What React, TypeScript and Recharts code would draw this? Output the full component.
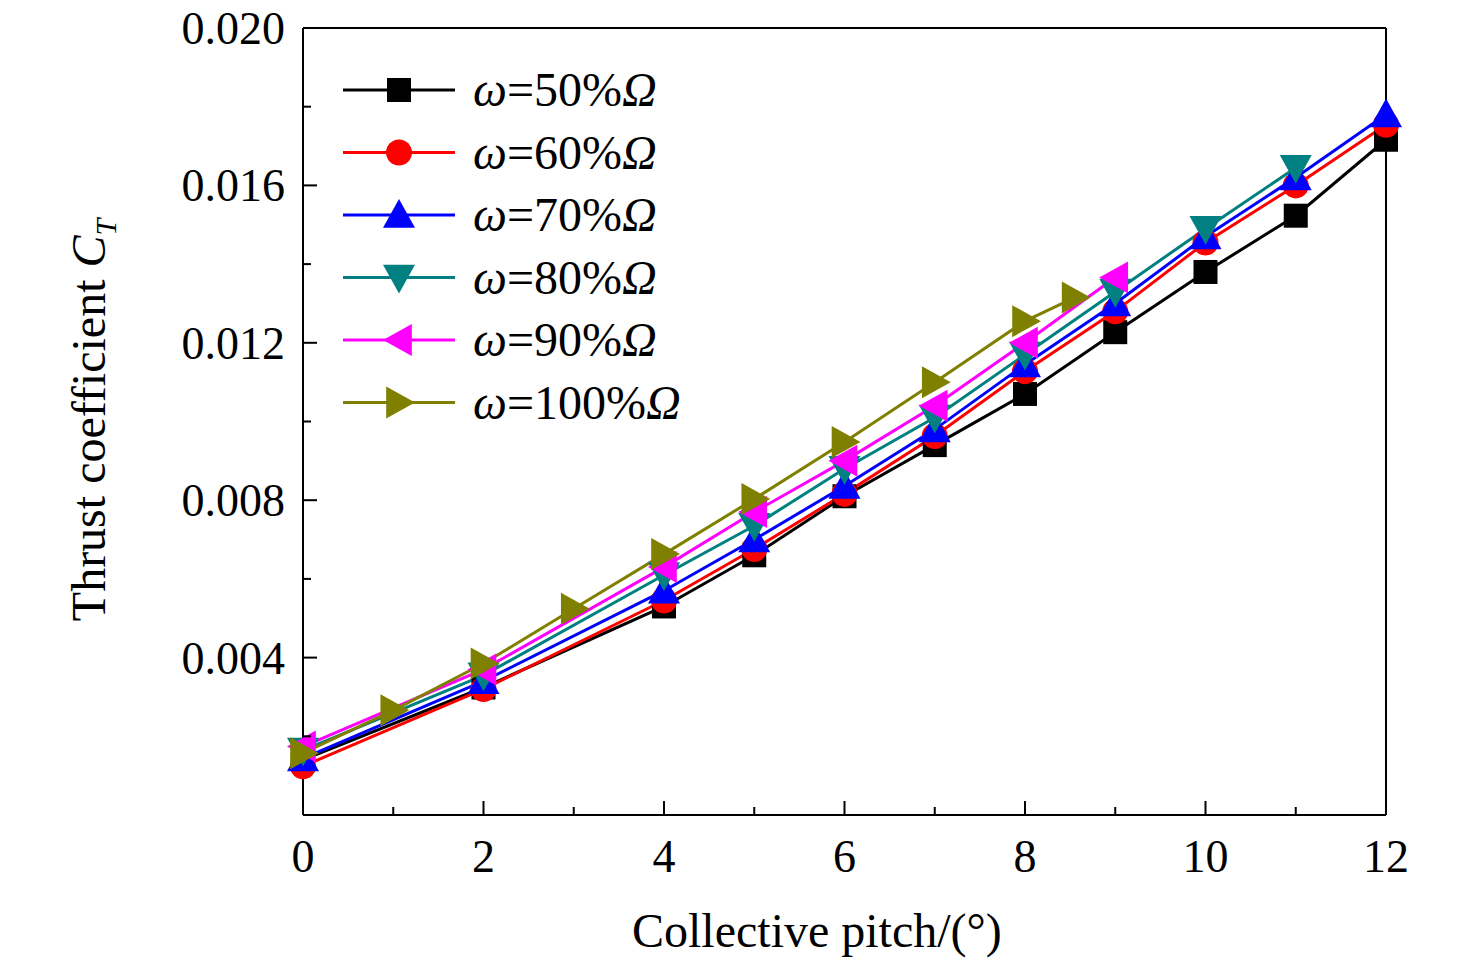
import { LineChart, Line, XAxis, YAxis, ReferenceLine } from "recharts";

const pitch50 = [0, 2, 4, 5, 6, 7, 8, 9, 10, 11, 12];
const ct50 = [0.0014, 0.00324, 0.0053, 0.0066, 0.0081, 0.0094, 0.0107, 0.01227, 0.0138, 0.01523, 0.01716];
const pitch60 = [0, 2, 4, 5, 6, 7, 8, 9, 10, 11, 12];
const ct60 = [0.00124, 0.0032, 0.00545, 0.00676, 0.00816, 0.00963, 0.01128, 0.0128, 0.01455, 0.016, 0.01754];
const pitch70 = [0, 2, 4, 5, 6, 7, 8, 9, 10, 11, 12];
const ct70 = [0.00144, 0.0034, 0.0057, 0.007, 0.00836, 0.0098, 0.01145, 0.013, 0.0147, 0.0162, 0.0178];
const pitch80 = [0, 2, 4, 5, 6, 7, 8, 9, 10, 11];
const ct80 = [0.00164, 0.00355, 0.0061, 0.00735, 0.0088, 0.0101, 0.0117, 0.0133, 0.0149, 0.01645];
const pitch90 = [0, 2, 4, 5, 6, 7, 8, 9];
const ct90 = [0.00174, 0.0037, 0.0063, 0.0077, 0.009, 0.0104, 0.012, 0.01366];
const pitch100 = [0, 1, 2, 3, 4, 5, 6, 7, 8, 8.55];
const ct100 = [0.00157, 0.00266, 0.00385, 0.00524, 0.00663, 0.00803, 0.00948, 0.011, 0.01255, 0.01315];

const xTicks = [0, 1, 2, 3, 4, 5, 6, 7, 8, 9, 10, 11, 12];
const yTicks = [0, 0.002, 0.004, 0.006, 0.008, 0.01, 0.012, 0.014, 0.016, 0.018, 0.02];
const yLabels = ["", "", "0.004", "", "0.008", "", "0.012", "", "0.016", "", "0.020"];

const zip = (xs: number[], ys: number[]) => xs.map((x, i) => ({ x, y: ys[i] }));

const series = [
  { name: "50%", data: zip(pitch50, ct50), color: "#000000", shape: "square" },
  { name: "60%", data: zip(pitch60, ct60), color: "#ff0000", shape: "circle" },
  { name: "70%", data: zip(pitch70, ct70), color: "#0000ff", shape: "up" },
  { name: "80%", data: zip(pitch80, ct80), color: "#008080", shape: "down" },
  { name: "90%", data: zip(pitch90, ct90), color: "#ff00ff", shape: "left" },
  { name: "100%", data: zip(pitch100, ct100), color: "#808000", shape: "right" },
];

const FONT = "'Liberation Serif', 'Times New Roman', serif";

const Marker = ({ cx, cy, shape, color }: any) => {
  if (cx == null || cy == null) return null;
  const s = 16;
  if (shape === "square") return <rect x={cx - 12} y={cy - 12} width={24} height={24} fill={color} />;
  if (shape === "circle") return <circle cx={cx} cy={cy} r={13} fill={color} />;
  let pts = "";
  if (shape === "up") pts = `${cx},${cy - s} ${cx - s},${cy + s * 0.8} ${cx + s},${cy + s * 0.8}`;
  if (shape === "down") pts = `${cx},${cy + s} ${cx - s},${cy - s * 0.8} ${cx + s},${cy - s * 0.8}`;
  if (shape === "left") pts = `${cx - s},${cy} ${cx + s * 0.8},${cy - s} ${cx + s * 0.8},${cy + s}`;
  if (shape === "right") pts = `${cx + s},${cy} ${cx - s * 0.8},${cy - s} ${cx - s * 0.8},${cy + s}`;
  return <polygon points={pts} fill={color} />;
};

const XTick = ({ x, y, payload }: any) => {
  const major = payload.value % 2 === 0;
  return (
    <g>
      <line x1={x} x2={x} y1={815} y2={815 - (major ? 14 : 8)} stroke="#000" strokeWidth={2} />
      {major && (
        <text x={x} y={872} textAnchor="middle" fontSize={46} fontFamily={FONT} fill="#000">
          {payload.value}
        </text>
      )}
    </g>
  );
};

const YTick = ({ y, payload, index }: any) => {
  const label = yLabels[index];
  return (
    <g>
      <line x1={303} x2={303 + (label ? 14 : 8)} y1={y} y2={y} stroke="#000" strokeWidth={2} />
      {label && (
        <text x={285} y={y + 16} textAnchor="end" fontSize={46} fontFamily={FONT} fill="#000">
          {label}
        </text>
      )}
    </g>
  );
};

export default function App() {
  return (
    <div style={{ position: "absolute", left: 0, top: 0, width: 1476, height: 969, background: "#fff", fontFamily: FONT }}>
      <LineChart width={1476} height={969} margin={{ top: 28, right: 90, bottom: 94, left: 223 }}>
        <XAxis
          type="number"
          dataKey="x"
          domain={[0, 12]}
          ticks={xTicks}
          interval={0}
          height={60}
          axisLine={{ stroke: "#000", strokeWidth: 2 }}
          tickLine={false}
          tick={<XTick />}
          allowDuplicatedCategory={false}
        />
        <YAxis
          type="number"
          domain={[0, 0.02]}
          ticks={yTicks}
          interval={0}
          width={80}
          axisLine={{ stroke: "#000", strokeWidth: 2 }}
          tickLine={false}
          tick={<YTick />}
        />
        <ReferenceLine y={0.02} stroke="#000" strokeWidth={2} />
        <ReferenceLine x={12} stroke="#000" strokeWidth={2} />
        {series.map((s) => (
          <Line
            key={s.name}
            data={s.data}
            dataKey="y"
            stroke={s.color}
            strokeWidth={3}
            isAnimationActive={false}
            dot={(p: any) => <Marker key={`${s.name}-${p.index}`} cx={p.cx} cy={p.cy} shape={s.shape} color={s.color} />}
            activeDot={false}
          />
        ))}
      </LineChart>
      <div style={{ position: "absolute", left: 632, top: 903, fontSize: 48, lineHeight: "56px" }}>Collective pitch/(°)</div>
      <div
        style={{
          position: "absolute",
          left: 92,
          top: 420,
          fontSize: 48,
          whiteSpace: "nowrap",
          transform: "translate(-50%, -50%) rotate(-90deg)",
        }}
      >
        Thrust coefficient <i>C</i>
        <sub style={{ fontSize: 30, fontStyle: "italic" }}>T</sub>
      </div>
      <svg style={{ position: "absolute", left: 0, top: 0 }} width={760} height={440}>
        {series.map((s, i) => {
          const y = 90 + i * 62.5;
          return (
            <g key={s.name}>
              <line x1={343} x2={455} y1={y} y2={y} stroke={s.color} strokeWidth={3} />
              <Marker cx={399} cy={y} shape={s.shape} color={s.color} />
              <text x={473} y={y + 16} fontSize={48} fontFamily={FONT} fill="#000">
                <tspan fontStyle="italic">ω</tspan>={s.name}<tspan fontStyle="italic">Ω</tspan>
              </text>
            </g>
          );
        })}
      </svg>
    </div>
  );
}
